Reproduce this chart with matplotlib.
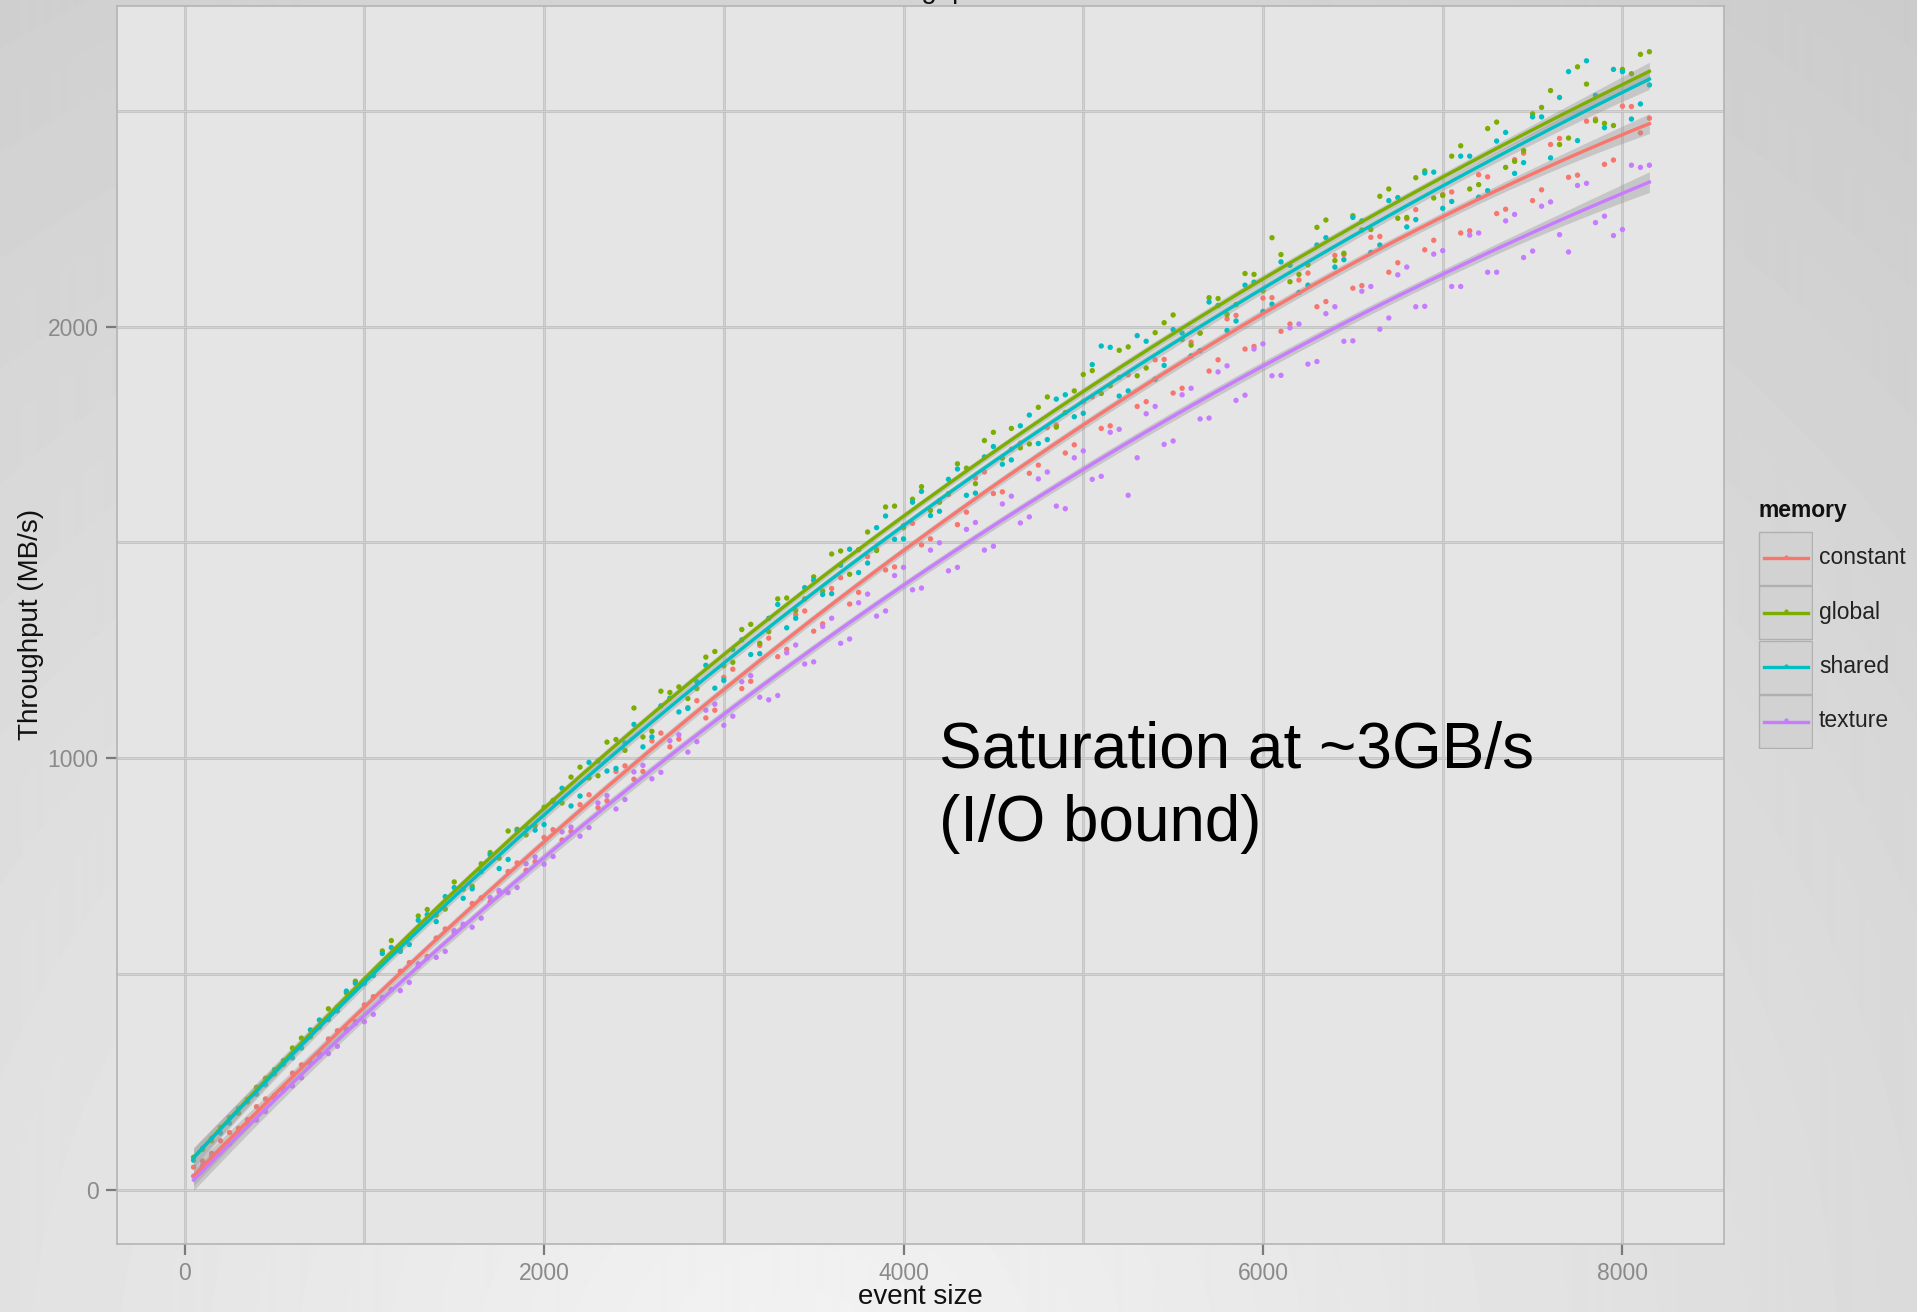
import numpy as np
import matplotlib
matplotlib.use("Agg")
import matplotlib.pyplot as plt
from matplotlib.patches import Rectangle
from matplotlib.lines import Line2D

plt.rcParams['font.family'] = ['Liberation Sans', 'DejaVu Sans']

# event sizes: two interleaved runs of measurements
event_size_a = list(range(50, 8151, 100))
event_size_b = list(range(100, 8101, 100))

global_a = [75, 113, 167, 203, 258, 290, 351, 376, 423, 483,
            502, 577, 583, 649, 650, 696, 755, 768, 835, 843,
            902, 956, 954, 1037, 1018, 1049, 1155, 1165, 1161, 1247,
            1222, 1310, 1293, 1371, 1369, 1387, 1480, 1483, 1481, 1584,
            1600, 1574, 1613, 1672, 1736, 1695, 1719, 1813, 1767, 1851,
            1898, 1863, 1953, 1904, 2009, 1970, 1985, 2065, 2051, 2121,
            2206, 2104, 2143, 2247, 2170, 2224, 2302, 2251, 2345, 2298,
            2395, 2319, 2459, 2369, 2408, 2508, 2422, 2602, 2477, 2466,
            2586, 2637]
global_b = [93, 144, 177, 237, 268, 328, 354, 419, 456, 484,
            553, 556, 634, 636, 713, 703, 781, 831, 822, 886,
            896, 979, 959, 1043, 1116, 1062, 1152, 1138, 1234, 1214,
            1298, 1266, 1369, 1342, 1420, 1473, 1426, 1524, 1582, 1534,
            1629, 1593, 1682, 1636, 1755, 1764, 1728, 1837, 1801, 1889,
            1845, 1945, 1886, 1986, 2027, 1957, 2067, 2028, 2123, 2083,
            2167, 2121, 2230, 2153, 2257, 2225, 2319, 2253, 2361, 2304,
            2419, 2329, 2474, 2383, 2493, 2547, 2437, 2562, 2471, 2596,
            2631]

shared_a = [68, 119, 154, 209, 243, 299, 328, 393, 414, 478,
            496, 561, 568, 637, 679, 675, 737, 744, 831, 833,
            899, 889, 990, 970, 1035, 1026, 1121, 1107, 1177, 1162,
            1252, 1240, 1324, 1302, 1395, 1379, 1447, 1430, 1534, 1507,
            1593, 1562, 1646, 1609, 1698, 1681, 1770, 1729, 1832, 1791,
            1912, 1952, 1851, 1966, 1910, 1985, 1944, 2049, 2013, 2103,
            2052, 2142, 2096, 2206, 2155, 2245, 2189, 2299, 2248, 2358,
            2290, 2395, 2315, 2450, 2380, 2486, 2531, 2431, 2536, 2596,
            2481, 2560]
shared_b = [96, 131, 188, 221, 278, 305, 370, 394, 460, 478,
            547, 552, 624, 621, 700, 697, 776, 765, 840, 846,
            930, 912, 993, 976, 1078, 1049, 1139, 1115, 1215, 1180,
            1274, 1242, 1356, 1324, 1412, 1381, 1484, 1452, 1561, 1508,
            1618, 1572, 1670, 1614, 1722, 1691, 1795, 1738, 1842, 1799,
            1955, 1839, 1979, 1878, 1993, 1932, 2057, 1991, 2096, 2035,
            2150, 2079, 2189, 2138, 2253, 2172, 2292, 2231, 2356, 2274,
            2395, 2300, 2430, 2355, 2486, 2391, 2591, 2616, 2461, 2591,
            2516]

constant_a = [52, 84, 132, 162, 210, 237, 289, 314, 368, 389,
              447, 463, 526, 540, 604, 612, 676, 690, 757, 760,
              834, 830, 915, 901, 982, 969, 1058, 1044, 1133, 1111,
              1206, 1178, 1278, 1252, 1341, 1311, 1418, 1384, 1484, 1443,
              1544, 1508, 1611, 1570, 1663, 1617, 1730, 1679, 1772, 1726,
              1837, 1770, 1888, 1826, 1924, 1857, 1985, 1923, 2026, 1954,
              2067, 2006, 2124, 2058, 2167, 2095, 2209, 2148, 2271, 2200,
              2312, 2222, 2347, 2272, 2402, 2317, 2436, 2351, 2481, 2386,
              2510, 2483]
constant_b = [66, 113, 142, 192, 218, 270, 294, 349, 372, 428,
              444, 506, 518, 583, 596, 663, 667, 737, 740, 816,
              810, 892, 885, 969, 951, 1040, 1026, 1117, 1093, 1187,
              1161, 1261, 1235, 1332, 1294, 1393, 1357, 1467, 1436, 1539,
              1494, 1597, 1541, 1649, 1613, 1716, 1660, 1766, 1707, 1826,
              1764, 1882, 1815, 1923, 1846, 1964, 1897, 2018, 1948, 2066,
              1989, 2108, 2046, 2165, 2089, 2207, 2126, 2250, 2178, 2306,
              2217, 2352, 2262, 2387, 2292, 2422, 2346, 2476, 2376, 2511,
              2449]

texture_a = [31, 76, 106, 152, 181, 230, 259, 308, 332, 385,
             406, 463, 480, 537, 552, 615, 629, 693, 700, 771,
             772, 840, 839, 913, 904, 983, 967, 1054, 1038, 1125,
             1097, 1191, 1135, 1244, 1218, 1305, 1266, 1360, 1329, 1423,
             1390, 1482, 1434, 1530, 1482, 1589, 1545, 1647, 1584, 1696,
             1646, 1755, 1609, 1798, 1727, 1842, 1786, 1895, 1829, 1948,
             1886, 1997, 1913, 2030, 1966, 2082, 1994, 2120, 2046, 2168,
             2093, 2212, 2126, 2245, 2160, 2279, 2213, 2327, 2241, 2211,
             2374, 2374]
texture_b = [56, 87, 134, 161, 212, 240, 291, 315, 368, 389,
             445, 461, 523, 538, 600, 608, 677, 688, 755, 754,
             829, 819, 896, 882, 968, 952, 1040, 1014, 1111, 1076,
             1177, 1141, 1145, 1262, 1223, 1324, 1276, 1380, 1341, 1442,
             1394, 1499, 1442, 1546, 1491, 1607, 1559, 1663, 1578, 1712,
             1653, 1762, 1696, 1815, 1735, 1857, 1788, 1909, 1841, 1960,
             1887, 2006, 1919, 2046, 1967, 2093, 2020, 2138, 2047, 2176,
             2093, 2217, 2126, 2260, 2175, 2289, 2173, 2332, 2256, 2225,
             2369]

memory = ['constant', 'global', 'shared', 'texture']
colors = ['#F8766D', '#7CAE00', '#00BFC4', '#C77CFF']
series = [constant_a + constant_b, global_a + global_b,
          shared_a + shared_b, texture_a + texture_b]

W, H = 1917, 1312
fig = plt.figure(figsize=(W / 100, H / 100), dpi=100)

# slide-like grey gradient background
bg = fig.add_axes([0, 0, 1, 1], zorder=-10)
yy, xx = np.mgrid[0:H, 0:W]
d = np.hypot(xx - 800, yy - 1400)
shade = np.clip(0.955 - 0.15 * d / 1700, 0.78, 0.96)
bg.imshow(shade, cmap='gray', vmin=0, vmax=1, aspect='auto', extent=[0, 1, 0, 1])
bg.axis('off')

ax = fig.add_axes([117.4 / W, 68.5 / H, 1606.6 / W, 1237.5 / H])
ax.set_facecolor('#e5e5e5')
ax.set_xlim(-374, 8565)
ax.set_ylim(-125, 2743)

for v in [0, 1000, 2000, 3000, 4000, 5000, 6000, 7000, 8000]:
    ax.axvline(v, color='#bcbcbc', lw=1.8, zorder=0)
    ax.axvline(v, color='#dcdcdc', lw=0.5, zorder=0)
for v in [0, 500, 1000, 1500, 2000, 2500]:
    ax.axhline(v, color='#bcbcbc', lw=1.8, zorder=0)
    ax.axhline(v, color='#dcdcdc', lw=0.5, zorder=0)

x = np.array(event_size_a + event_size_b, dtype=float)
for ys, c in zip(series, colors):
    ax.scatter(x, ys, s=15, color=c, edgecolors='none', zorder=2)

xf = np.linspace(x.min(), x.max(), 300)
for ys, c in zip(series, colors):
    y = np.array(ys, dtype=float)
    coef, cov = np.polyfit(x, y, 3, cov=True)
    V = np.vander(xf, 4)
    fit = V @ coef
    se = np.sqrt(np.einsum('ij,jk,ik->i', V, cov, V))
    ax.fill_between(xf, fit - 1.96 * se, fit + 1.96 * se, color='#999999', alpha=0.4, lw=0, zorder=3)
    ax.plot(xf, fit, color=c, lw=2.4, zorder=4)

for s in ax.spines.values():
    s.set_color('#b4b4b4')
    s.set_linewidth(1.2)

ax.set_xticks([0, 2000, 4000, 6000, 8000])
ax.set_yticks([0, 1000, 2000])
ax.tick_params(length=8, width=1.6, color='#7a7a7a', labelcolor='#8a8a8a', labelsize=16.5)
ax.tick_params(axis='y', pad=5.5)
ax.tick_params(axis='x', pad=5)

ax.set_xlabel('event size', fontsize=20, color='#111111', va='center')
ax.xaxis.set_label_coords(0.5, -0.0432)
ax.set_ylabel('Throughput (MB/s)', fontsize=20, color='#111111', va='center', ha='center')
ax.yaxis.set_label_coords(-0.0538, 0.5)

# title sits mostly above the top edge (cropped in the original screenshot)
fig.text(920.6 / W, 1 + 1.5 / H, 'Throughput', fontsize=20, color='#111111',
         ha='center', va='baseline')

fig.text(939 / W, 1 - 768 / H, 'Saturation at ~3GB/s', fontsize=46, color='black', va='baseline')
fig.text(939 / W, 1 - 841 / H, '(I/O bound)', fontsize=46, color='black', va='baseline')

# legend
fig.text(1758 / W, 1 - 510 / H, 'memory', fontsize=16.5, fontweight='bold', color='#111111', va='center')
lg = fig.add_axes([1758 / W, (H - 749) / H, 55 / W, 218 / H])
lg.set_xlim(0, 1)
lg.set_ylim(0, 4)
lg.axis('off')
for i, (name, c) in enumerate(zip(memory, colors)):
    y0 = 3 - i
    lg.add_patch(Rectangle((0.01, y0 + 0.01), 0.98, 0.98, facecolor='#d2d2d2', edgecolor='#b0b0b0', lw=1.0))
    lg.add_line(Line2D([0.1, 0.9], [y0 + 0.5, y0 + 0.5], color=c, lw=2.4))
    lg.plot([0.5], [y0 + 0.53], 'o', color=c, ms=2)
    fig.text(1819 / W, 1 - (558 + 54.3 * i) / H, name, fontsize=16.5, color='#222222', va='center')

fig.savefig('out.png', dpi=100)
